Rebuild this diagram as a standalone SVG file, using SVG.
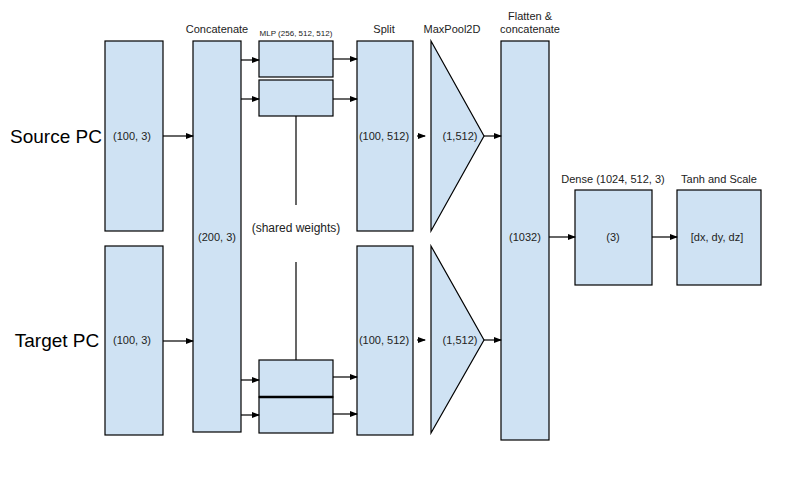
<svg xmlns="http://www.w3.org/2000/svg" width="789" height="479" viewBox="0 0 789 479">
<defs>
<marker id="ah" markerWidth="8" markerHeight="6" refX="7" refY="3" orient="auto" markerUnits="userSpaceOnUse">
<path d="M0,0 L8,3 L0,6 z" fill="#000"/>
</marker>
<style>
.box{fill:#cfe2f3;stroke:#000;stroke-width:1.2}
.t{font-family:"Liberation Sans",Arial,sans-serif;font-size:11px;fill:#222;text-anchor:middle}
.s{font-size:8px}
.big{font-family:"Liberation Sans",Arial,sans-serif;font-size:19px;fill:#000;text-anchor:middle}
.c line{stroke:#000;stroke-width:1.2;marker-end:url(#ah)}
.p line{stroke:#000;stroke-width:1.2}
</style>
</defs>
<rect width="789" height="479" fill="#fff"/>

<text class="big" x="56" y="143">Source PC</text>
<text class="big" x="57" y="347">Target PC</text>

<g id="source"><rect class="box" x="105" y="41" width="58" height="190"/><text class="t" x="132" y="140">(100, 3)</text></g>
<g id="target"><rect class="box" x="105" y="246" width="58" height="189"/><text class="t" x="132" y="344">(100, 3)</text></g>

<g id="concat"><rect class="box" x="193" y="41" width="48" height="391"/><text class="t" x="217" y="33">Concatenate</text><text class="t" x="217" y="241">(200, 3)</text></g>

<g id="mlp-top1"><rect class="box" x="259" y="41" width="74" height="36"/></g>
<g id="mlp-top2"><rect class="box" x="259" y="80" width="74" height="36"/></g>
<text class="t s" x="296" y="36">MLP (256, 512, 512)</text>
<g id="mlp-bot1"><rect class="box" x="259" y="360" width="74" height="37"/></g>
<g id="mlp-bot2"><rect class="box" x="259" y="397" width="74" height="36"/><line x1="259" y1="397" x2="333" y2="397" stroke="#000" stroke-width="2.4"/></g>
<text class="t" x="296" y="232" style="font-size:12px">(shared weights)</text>

<g id="split-top"><rect class="box" x="357" y="41" width="56" height="190"/><text class="t" x="384" y="33">Split</text><text class="t" x="384" y="140">(100, 512)</text></g>
<g id="split-bot"><rect class="box" x="357" y="246" width="56" height="189"/><text class="t" x="384" y="344">(100, 512)</text></g>

<g id="pool-top"><polygon class="box" points="431,41 484,136 431,231"/><text class="t" x="452" y="33">MaxPool2D</text><text class="t" x="460" y="140">(1,512)</text></g>
<g id="pool-bot"><polygon class="box" points="431,246 484,340 431,433"/><text class="t" x="460" y="344">(1,512)</text></g>

<g id="flatten"><rect class="box" x="501" y="41" width="48" height="399"/><text class="t" x="530" y="20">Flatten &amp;</text><text class="t" x="530" y="33">concatenate</text><text class="t" x="525" y="241">(1032)</text></g>

<g id="dense"><rect class="box" x="575" y="190" width="77" height="95"/><text class="t" x="613" y="183">Dense (1024, 512, 3)</text><text class="t" x="613" y="241">(3)</text></g>
<g id="tanh"><rect class="box" x="677" y="190" width="84" height="95"/><text class="t" x="719" y="183">Tanh and Scale</text><text class="t" x="717" y="241">[dx, dy, dz]</text></g>

<g id="connectors">
<g class="p">
<line x1="296" y1="116" x2="296" y2="205"/>
<line x1="296" y1="262" x2="296" y2="360"/>
</g>
<g class="c">
<line x1="163" y1="136" x2="193" y2="136"/>
<line x1="163" y1="341" x2="193" y2="341"/>
<line x1="241" y1="60" x2="259" y2="60"/>
<line x1="241" y1="99" x2="259" y2="99"/>
<line x1="241" y1="380" x2="259" y2="380"/>
<line x1="241" y1="415" x2="259" y2="415"/>
<line x1="333" y1="59" x2="357" y2="59"/>
<line x1="333" y1="99" x2="357" y2="99"/>
<line x1="333" y1="377" x2="357" y2="377"/>
<line x1="333" y1="414" x2="357" y2="414"/>
<line x1="417" y1="136" x2="425" y2="136"/>
<line x1="417" y1="340" x2="425" y2="340"/>
<line x1="484" y1="136" x2="501" y2="136"/>
<line x1="484" y1="340" x2="501" y2="340"/>
<line x1="549" y1="237" x2="575" y2="237"/>
<line x1="652" y1="237" x2="677" y2="237"/>
</g>
</g>
</svg>
